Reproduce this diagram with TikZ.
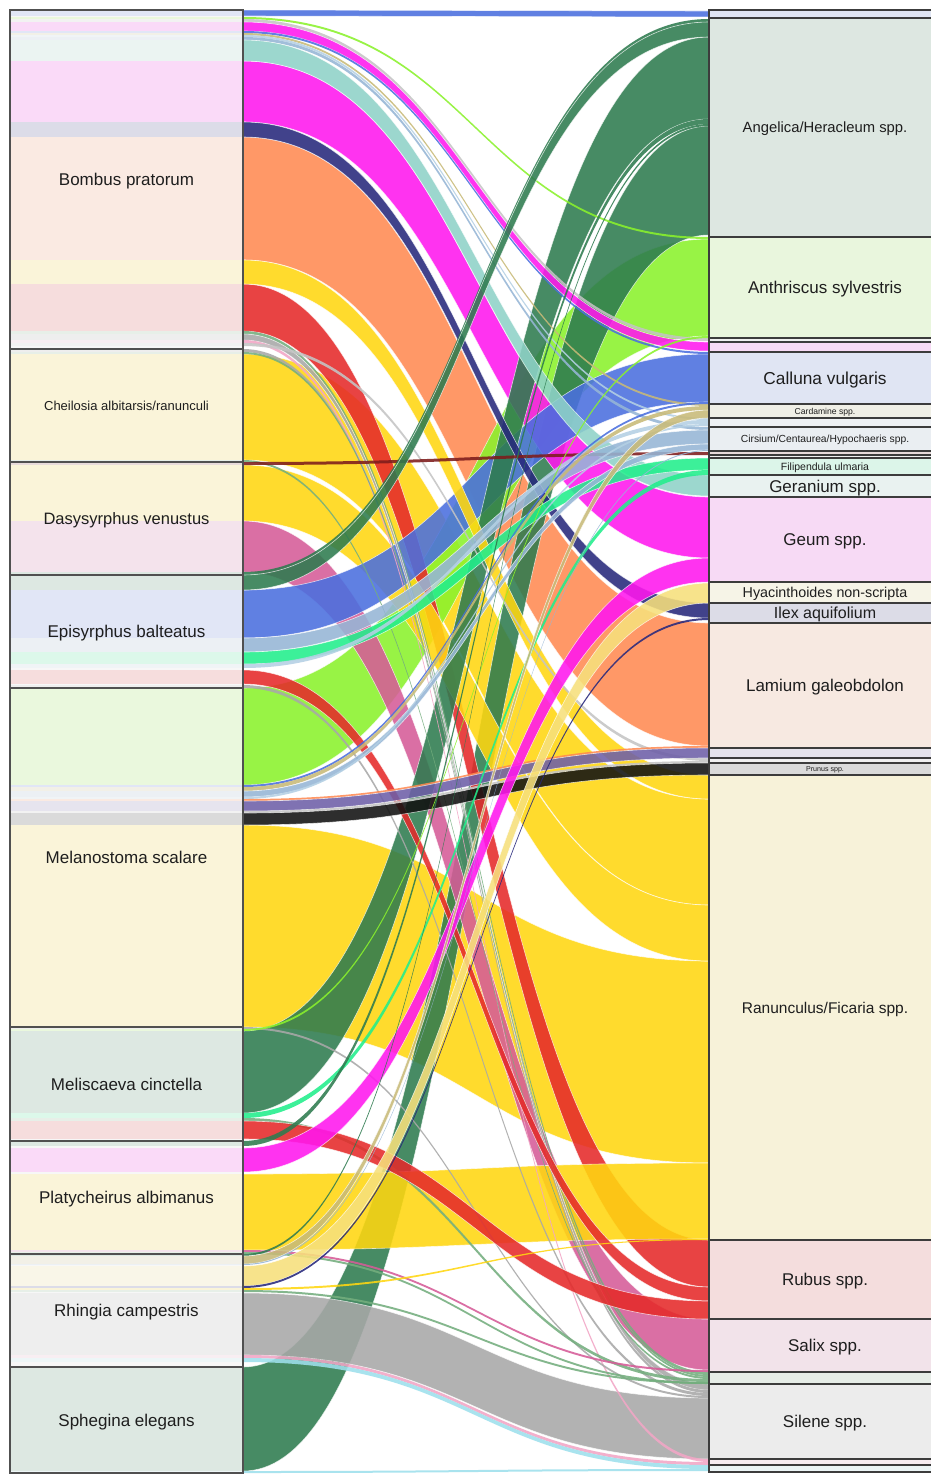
\documentclass[tikz,border=0pt]{standalone}
\usepackage{fontspec}
\setmainfont{Liberation Sans}

% flow colours (one per plant)
\definecolor{cBlue}{HTML}{4A6FDF}
\definecolor{cDkGreen}{HTML}{2E7B4F}
\definecolor{cLime}{HTML}{8AF22C}
\definecolor{cMagenta}{HTML}{FF17EE}
\definecolor{cTeal}{HTML}{8FD2C8}
\definecolor{cNavy}{HTML}{27287C}
\definecolor{cOrange}{HTML}{FF8A52}
\definecolor{cYellow}{HTML}{FFD710}
\definecolor{cRed}{HTML}{E52A2A}
\definecolor{cRose}{HTML}{D65C98}
\definecolor{cGray}{HTML}{A8A8A8}
\definecolor{cSage}{HTML}{74AE7E}
\definecolor{cKhaki}{HTML}{C8BA78}
\definecolor{cSteel}{HTML}{96B6D6}
\definecolor{cSpring}{HTML}{22EE8C}
\definecolor{cLtYellow}{HTML}{F7E07C}
\definecolor{cPurple}{HTML}{6E5FA8}
\definecolor{cBlack}{HTML}{121212}
\definecolor{cBrown}{HTML}{7E1C1C}
\definecolor{cPaleBlue}{HTML}{B4D0E4}
\definecolor{cLtGray}{HTML}{C4C4C4}
\definecolor{cPink}{HTML}{F2A6C6}
\definecolor{cCyan}{HTML}{9EE0EC}
\definecolor{labeltext}{HTML}{1E1E1E}
\definecolor{leftline}{HTML}{505050}
\definecolor{rightline}{HTML}{3C3C3C}

\pgfdeclarelayer{bigbands}
\pgfdeclarelayer{midbands}
\pgfdeclarelayer{thinbands}
\pgfdeclarelayer{frames}
\pgfsetlayers{main,bigbands,midbands,thinbands,frames}

\tikzset{
  leftframe/.style={draw=leftline, line width=1.2pt},
  rightframe/.style={draw=rightline, line width=1.4pt},
  boxlabel/.style={text=labeltext, inner sep=0pt, anchor=base},
  band/.style={fill opacity=0.88},
  wideband/.style={band, draw=white, draw opacity=0.7, line width=0.6pt}
}

% band from an insect (left, y from #2 to #3) to a plant (right, y from #4 to #5);
% wide bands go underneath, thin ones on top
\newcommand\flowband[5]{%
  \fill[#1!14!white!98!black] (10,#2) rectangle (243,#3);
  \pgfmathtruncatemacro\bandwidth{#3-#2}%
  \ifnum\bandwidth>90 \def\bandlayer{bigbands}\else
    \ifnum\bandwidth>29 \def\bandlayer{midbands}\else\def\bandlayer{thinbands}\fi\fi
  \ifnum\bandwidth>5 \def\bandstyle{wideband}\else\def\bandstyle{band}\fi
  \begin{pgfonlayer}{\bandlayer}
  \path[fill=#1, \bandstyle] (243,#2) .. controls (476,#2) and (476,#4) .. (709,#4)
    -- (709,#5) .. controls (476,#5) and (476,#3) .. (243,#3) -- cycle;
  \end{pgfonlayer}}

% insect box: name, top, bottom, label, font size
\newcommand\insectbox[5]{%
  \draw[leftframe] (10,#2) rectangle (243,#3);
  \node[boxlabel, font=\fontsize{#5}{#5}\selectfont] (#1) at (126.5,{(#2+#3)/2+0.36*#5}) {#4};}

% plant box: name, colour, top, bottom, label, font size
\newcommand\plantbox[6]{%
  \fill[#2!13!white!97!black] (709,#3) rectangle (945,#4);
  \draw[rightframe] (709,#3) rectangle (945,#4);
  \node[boxlabel, font=\fontsize{#6}{#6}\selectfont] (#1) at (825,{(#3+#4)/2+0.36*#6}) {#5};}

\begin{document}
\begin{tikzpicture}[x=1pt,y=-1pt]
\useasboundingbox (0,0) rectangle (931,1475);
\fill[white] (0,0) rectangle (931,1475);

% insect column background
\fill[gray!6] (10,10) rectangle (243,1473);

% Bombus pratorum
\flowband{cBlue}{10}{16}{11}{17}
\flowband{cLime}{17}{19}{237}{239}
\flowband{cLtGray}{19}{22}{338}{341}
\flowband{cMagenta}{22}{31}{342}{351}
\flowband{cBlue}{31}{33}{352}{354}
\flowband{cKhaki}{33}{35}{404}{406}
\flowband{cPaleBlue}{35}{37}{418}{420}
\flowband{cSteel}{37}{40}{427}{430}
\flowband{cTeal}{40}{61}{475}{496}
\flowband{cMagenta}{61}{122}{497}{558}
\flowband{cNavy}{122}{137}{603}{618}
\flowband{cOrange}{137}{260}{623}{746}
\flowband{cYellow}{260}{284}{775}{799}
\flowband{cRed}{284}{331}{1240}{1287}
\flowband{cSage}{331}{334}{1372}{1375}
\flowband{cGray}{334}{340}{1384}{1390}
\flowband{cPink}{340}{343}{1459}{1462}
\flowband{cLtGray}{343}{346}{758}{761}

% Cheilosia albitarsis/ranunculi
\flowband{cGray}{349}{352}{1390}{1393}
\flowband{cSage}{352}{354}{1375}{1377}
\flowband{cYellow}{354}{460}{799}{905}
\flowband{cSage}{460}{462}{1377}{1379}

% Dasysyrphus venustus
\flowband{cBrown}{462}{465}{452}{455}
\flowband{cYellow}{465}{521}{905}{961}
\flowband{cRose}{521}{572}{1319}{1370}
\flowband{cDkGreen}{572}{575}{19}{22}

% Episyrphus balteatus
\flowband{cDkGreen}{575}{590}{22}{37}
\flowband{cBlue}{590}{638}{354}{402}
\flowband{cSteel}{638}{652}{430}{444}
\flowband{cSpring}{652}{664}{458}{470}
\flowband{cPaleBlue}{664}{668}{420}{424}
\flowband{cRed}{670}{684}{1287}{1301}
\flowband{cGray}{685}{688}{1393}{1396}

% Melanostoma scalare
\flowband{cLime}{688}{785}{239}{336}
\flowband{cBlue}{785}{787}{402}{404}
\flowband{cKhaki}{787}{791}{406}{410}
\flowband{cSteel}{791}{797}{444}{450}
\flowband{cPaleBlue}{797}{799}{424}{426}
\flowband{cOrange}{799}{801}{746}{748}
\flowband{cPurple}{801}{811}{748}{758}
\flowband{cLtGray}{811}{813}{761}{763}
\flowband{cBlack}{813}{825}{763}{775}
\flowband{cYellow}{825}{1027}{961}{1163}

% Meliscaeva cinctella
\flowband{cGray}{1027}{1029}{1396}{1398}
\flowband{cLime}{1029}{1031}{336}{338}
\flowband{cDkGreen}{1031}{1113}{37}{119}
\flowband{cSpring}{1113}{1118}{470}{475}
\flowband{cSage}{1118}{1121}{1379}{1382}
\flowband{cRed}{1121}{1139}{1301}{1319}

% Platycheirus albimanus
\flowband{cDkGreen}{1141}{1146}{119}{124}
\flowband{cMagenta}{1148}{1172}{558}{582}
\flowband{cYellow}{1174}{1250}{1163}{1239}
\flowband{cRose}{1250}{1252}{1370}{1372}
\flowband{cSage}{1252}{1254}{1382}{1384}

% Rhingia campestris
\flowband{cDkGreen}{1254}{1256}{124}{126}
\flowband{cKhaki}{1256}{1264}{410}{418}
\flowband{cSteel}{1264}{1265}{450}{451}
\flowband{cLtYellow}{1266}{1286}{583}{603}
\flowband{cNavy}{1286}{1288}{618}{620}
\flowband{cYellow}{1288}{1290}{1239}{1240}
\flowband{cSage}{1290}{1292}{1382}{1384}
\flowband{cGray}{1293}{1355}{1398}{1459}
\flowband{cPink}{1355}{1358}{1462}{1465}
\flowband{cCyan}{1358}{1362}{1465}{1469}

% Sphegina elegans
\flowband{cDkGreen}{1367}{1471}{126}{235}
\flowband{cCyan}{1471}{1473}{1469}{1471}

\begin{pgfonlayer}{frames}
% insect boxes
\insectbox{bombus}{10}{349}{Bombus pratorum}{17}
\insectbox{cheilosia}{349}{462}{Cheilosia albitarsis/ranunculi}{13}
\insectbox{dasysyrphus}{462}{575}{Dasysyrphus venustus}{16.5}
\insectbox{episyrphus}{575}{688}{Episyrphus balteatus}{17}
\insectbox{melanostoma}{688}{1027}{Melanostoma scalare}{17}
\insectbox{meliscaeva}{1027}{1141}{Meliscaeva cinctella}{17}
\insectbox{platycheirus}{1141}{1254}{Platycheirus albimanus}{17}
\insectbox{rhingia}{1254}{1367}{Rhingia campestris}{17}
\insectbox{sphegina}{1367}{1473}{Sphegina elegans}{17}

% plant boxes
\plantbox{p0}{cBlue}{10}{18}{}{8}
\plantbox{angelica}{cDkGreen}{18}{237}{Angelica/Heracleum spp.}{14.8}
\plantbox{anthriscus}{cLime}{237}{338}{Anthriscus sylvestris}{17}
\plantbox{p3}{cLtGray}{338}{342}{}{8}
\plantbox{p4}{cMagenta}{342}{352}{}{8}
\plantbox{calluna}{cBlue}{352}{404}{Calluna vulgaris}{17.3}
\plantbox{cardamine}{cKhaki}{404}{418}{Cardamine spp.}{8.6}
\plantbox{p7}{cPaleBlue}{418}{427}{}{8}
\plantbox{cirsium}{cSteel}{427}{451}{Cirsium/Centaurea/Hypochaeris spp.}{10.3}
\plantbox{p9}{cBrown}{451}{455}{}{8}
\plantbox{p10}{cLtGray}{455}{458}{}{8}
\plantbox{filipendula}{cSpring}{458}{475}{Filipendula ulmaria}{10.5}
\plantbox{geranium}{cTeal}{475}{497}{Geranium spp.}{17}
\plantbox{geum}{cMagenta}{497}{582}{Geum spp.}{17}
\plantbox{hyacinthoides}{cLtYellow}{582}{603}{Hyacinthoides non-scripta}{14.3}
\plantbox{ilex}{cNavy}{603}{623}{Ilex aquifolium}{16}
\plantbox{lamium}{cOrange}{623}{748}{Lamium galeobdolon}{17}
\plantbox{p16}{cPurple}{748}{758}{}{8}
\plantbox{p17}{cLtGray}{758}{763}{}{8}
\plantbox{prunus}{cBlack}{763}{775}{Prunus spp.}{7.1}
\plantbox{ranunculus}{cYellow}{775}{1240}{Ranunculus/Ficaria spp.}{15.5}
\plantbox{rubus}{cRed}{1240}{1319}{Rubus spp.}{17}
\plantbox{salix}{cRose}{1319}{1372}{Salix spp.}{17}
\plantbox{p22}{cSage}{1372}{1384}{}{8}
\plantbox{silene}{cGray}{1384}{1459}{Silene spp.}{17}
\plantbox{p24}{cPink}{1459}{1465}{}{8}
\plantbox{p25}{cCyan}{1465}{1472}{}{8}
\end{pgfonlayer}
\end{tikzpicture}
\end{document}
